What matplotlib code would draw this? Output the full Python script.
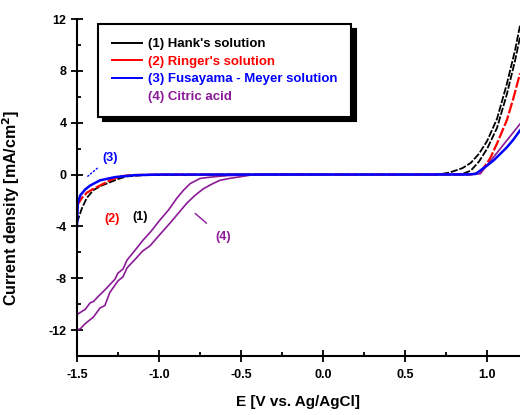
import numpy as np
import matplotlib
matplotlib.use("Agg")
import matplotlib.pyplot as plt
from matplotlib.lines import Line2D
from matplotlib.ticker import MultipleLocator, FormatStrFormatter

plt.rcParams['font.family'] = ['Liberation Sans', 'DejaVu Sans']
plt.rcParams['axes.unicode_minus'] = False

purple = '#8B1A96'

# (1) Hank's solution
hank_E = [-1.5, -1.47, -1.44, -1.40, -1.35, -1.30, -1.25, -1.20, -1.10, -0.5, 0.0, 0.5, 0.70,
          0.77, 0.85, 0.90, 0.95, 1.00, 1.06, 1.12, 1.17, 1.20]
hank_I = [-3.7, -2.6, -1.8, -1.2, -0.85, -0.6, -0.35, -0.15, -0.05, 0.0, 0.0, 0.0, 0.0,
          0.15, 0.5, 0.9, 1.6, 2.6, 4.3, 7.0, 9.6, 11.5]
hank_rev_E = [0.80, 0.85, 0.90, 0.95, 1.00, 1.06, 1.12, 1.17, 1.20]
hank_rev_I = [0.0, 0.05, 0.3, 1.0, 2.0, 3.6, 6.2, 8.8, 10.6]

# (2) Ringer's solution
ringer_E = [-1.5, -1.47, -1.44, -1.40, -1.36, -1.30, -1.24, -1.18, -1.0, 0.0, 0.9,
            0.957, 1.0, 1.02, 1.06, 1.12, 1.16, 1.20]
ringer_I = [-2.4, -1.8, -1.4, -1.1, -0.85, -0.45, -0.15, -0.05, 0.0, 0.0, 0.0,
            0.15, 0.9, 1.3, 2.4, 4.2, 5.9, 7.8]

# (3) Fusayama-Meyer solution
fusayama_E = [-1.5, -1.495, -1.48, -1.45, -1.42, -1.36, -1.27, -1.15, -1.0, 0.0, 0.88,
              0.93, 0.957, 1.0, 1.04, 1.08, 1.12, 1.16, 1.20]
fusayama_I = [-4.0, -2.2, -1.6, -1.15, -0.85, -0.45, -0.2, -0.05, 0.0, 0.0, 0.0,
              0.05, 0.3, 0.7, 1.1, 1.6, 2.1, 2.7, 3.4]

# (4) Citric acid, two branches of the loop
citric_up_E = [-1.5, -1.5, -1.45, -1.42, -1.40, -1.37, -1.33, -1.30, -1.27, -1.25, -1.22, -1.195,
               -1.15, -1.10, -1.05, -0.994, -0.94, -0.89, -0.85, -0.81, -0.75, -0.70, -0.646,
               -0.58, -0.5, -0.4, 0.0, 0.5, 0.957, 1.2]
citric_up_I = [-12.0, -10.8, -10.4, -9.9, -9.8, -9.4, -8.9, -8.5, -8.1, -7.6, -7.3, -6.6,
               -5.9, -5.1, -4.4, -3.5, -2.7, -1.8, -1.2, -0.7, -0.3, -0.22, -0.15,
               -0.08, -0.05, 0.0, 0.0, 0.0, 0.05, 3.9]
citric_dn_E = [-1.5, -1.48, -1.45, -1.40, -1.36, -1.33, -1.30, -1.25, -1.22, -1.195, -1.15,
               -1.10, -1.055, -1.0, -0.93, -0.88, -0.83, -0.78, -0.73, -0.68, -0.63, -0.57,
               -0.52, -0.445, -0.35, 0.0]
citric_dn_I = [-12.0, -11.9, -11.5, -11.0, -10.3, -10.1, -9.1, -8.2, -7.9, -7.2, -6.6,
               -5.9, -5.5, -4.7, -3.7, -2.95, -2.2, -1.6, -1.1, -0.75, -0.45, -0.3,
               -0.2, -0.05, 0.0, 0.0]

labels = ["(1) Hank's solution", "(2) Ringer's solution",
          "(3) Fusayama - Meyer solution", "(4) Citric acid"]
colors = ['black', 'red', 'blue', purple]

fig = plt.figure(figsize=(5.2, 4.15), dpi=100)
ax = fig.add_axes([77/520, 59/415, 443/520, 337/415])

ax.plot(hank_E, hank_I, color='black', lw=1.3, ls=(0, (4, 1)))
ax.plot(hank_rev_E, hank_rev_I, color='black', lw=1.3, ls=(0, (4, 1)))
ax.plot(ringer_E, ringer_I, color='red', lw=1.6, ls=(0, (5, 1)))
ax.plot(citric_up_E, citric_up_I, color=purple, lw=1.2)
ax.plot(citric_dn_E, citric_dn_I, color=purple, lw=1.2)
ax.plot(fusayama_E, fusayama_I, color='blue', lw=1.8)

ax.set_xlim(-1.5, 1.2)
ax.set_ylim(-14, 12)
for s in ['top', 'right']:
    ax.spines[s].set_visible(False)
for s in ['left', 'bottom']:
    ax.spines[s].set_linewidth(1.5)

ax.xaxis.set_major_locator(MultipleLocator(0.5))
ax.xaxis.set_minor_locator(MultipleLocator(0.25))
ax.xaxis.set_major_formatter(FormatStrFormatter('%.1f'))
ax.yaxis.set_major_locator(MultipleLocator(4))
ax.yaxis.set_minor_locator(MultipleLocator(2))
ax.tick_params(which='major', direction='inout', length=9, width=1.3, labelsize=9, pad=3)
ax.tick_params(axis='x', which='major', pad=5)
ax.tick_params(which='minor', direction='in', length=3, width=1.3)
for t in ax.get_xticklabels() + ax.get_yticklabels():
    t.set_fontweight('bold')

ax.set_xlabel('E [V vs. Ag/AgCl]', fontsize=11, fontweight='bold', labelpad=10)
ax.set_ylabel('Current density [mA/cm$^\\mathbf{2}$]', fontsize=11.5, fontweight='bold')
ax.yaxis.set_label_coords(-0.125, 0.44)

handles = [Line2D([], [], color=c, lw=1.4) for c in colors[:3]]
handles.append(Line2D([], [], color='none'))
leg = ax.legend(handles, labels, loc='upper left', bbox_to_anchor=(0.047, 0.985),
                borderaxespad=0, fancybox=False, frameon=True,
                prop={'weight': 'bold', 'size': 9.5}, handlelength=2.3, handletextpad=0.45,
                labelspacing=0.4, borderpad=1.05,
                shadow={'ox': 3.5, 'oy': -3.5, 'color': 'black', 'alpha': 1})
leg.get_frame().set_edgecolor('black')
leg.get_frame().set_linewidth(1.5)
for txt, c in zip(leg.get_texts(), colors):
    txt.set_color(c)

ax.annotate('(3)', xy=(-1.45, -0.3), xytext=(-1.30, 1.3), color='blue', fontsize=9,
            fontweight='bold', ha='center', va='center',
            arrowprops=dict(arrowstyle='-', color='blue', lw=1, ls=':'))
ax.text(-1.287, -3.4, '(2)', color='red', fontsize=9, fontweight='bold', ha='center', va='center')
ax.text(-1.116, -3.3, '(1)', color='black', fontsize=9, fontweight='bold', ha='center', va='center')
ax.annotate('(4)', xy=(-0.78, -3.0), xytext=(-0.61, -4.85), color=purple, fontsize=9,
            fontweight='bold', ha='center', va='center',
            arrowprops=dict(arrowstyle='-', color=purple, lw=1, shrinkA=6, shrinkB=0))

fig.savefig('out.png', dpi=100)
